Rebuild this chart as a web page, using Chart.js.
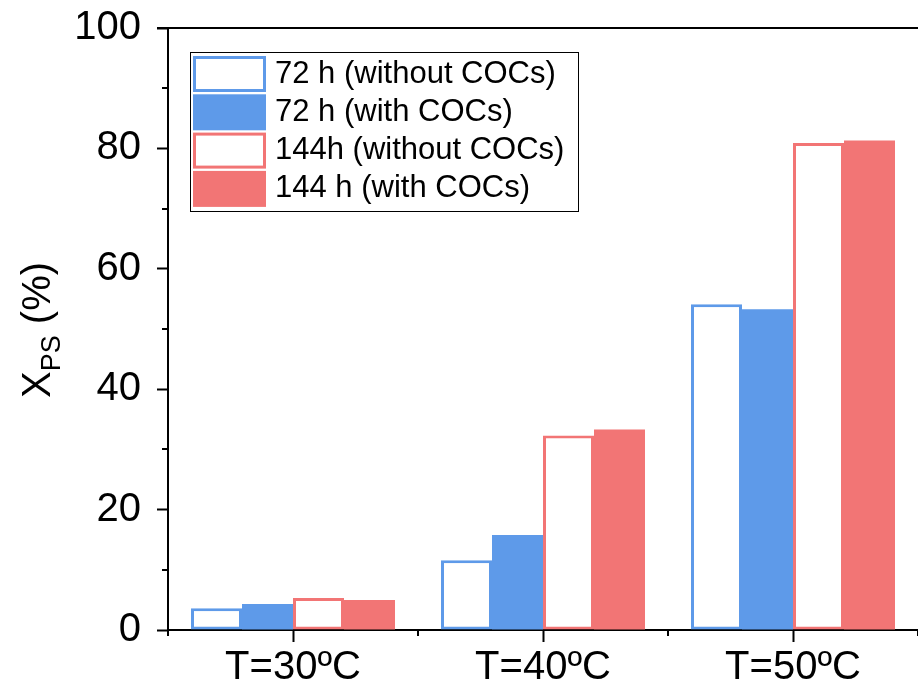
<!DOCTYPE html>
<html>
<head>
<meta charset="utf-8">
<script src="https://cdn.jsdelivr.net/npm/chart.js@4"></script>
<style>
  html, body { margin: 0; padding: 0; background: #fff; }
  canvas { display: block; }
</style>
</head>
<body>
<canvas id="psChart" width="918" height="693"></canvas>
<script>
// data
const temps = ['T=30ºC', 'T=40ºC', 'T=50ºC'];
const h72NoCoc = [3.6, 11.6, 54.1];
const h72Coc = [4.3, 15.8, 53.3];
const h144NoCoc = [5.3, 32.3, 80.9];
const h144Coc = [5.0, 33.3, 81.3];
const yTicks = [0, 20, 40, 60, 80, 100];
const yMinor = [10, 30, 50, 70, 90];

const blue = '#5e9ae9';
const red = '#f27575';
const font = "'Liberation Sans', Arial, sans-serif";

// minor ticks, top frame line, y title with subscript, legend box
const extras = {
  id: 'extras',
  afterDraw(chart) {
    const ctx = chart.ctx;
    const a = chart.chartArea;
    const y = chart.scales.y;
    const x = chart.scales.x;
    ctx.save();
    ctx.strokeStyle = '#000';
    ctx.lineWidth = 2;
    // top frame
    ctx.beginPath();
    ctx.moveTo(a.left - 11, a.top);
    ctx.lineTo(a.right, a.top);
    ctx.stroke();
    // y minor ticks
    yMinor.forEach(v => {
      const py = Math.round(y.getPixelForValue(v));
      ctx.beginPath();
      ctx.moveTo(a.left - 6, py);
      ctx.lineTo(a.left, py);
      ctx.stroke();
    });
    // x minor ticks between categories
    for (let i = 0; i <= temps.length; i++) {
      const px = Math.round(x.getPixelForValue(i - 0.5));
      ctx.beginPath();
      ctx.moveTo(px, a.bottom);
      ctx.lineTo(px, a.bottom + 6);
      ctx.stroke();
    }

    // y title: X_PS (%)
    ctx.translate(50, 398);
    ctx.rotate(-Math.PI / 2);
    ctx.fillStyle = '#000';
    ctx.textBaseline = 'alphabetic';
    ctx.textAlign = 'left';
    ctx.font = '40px ' + font;
    ctx.fillText('X', 0, 0);
    let off = ctx.measureText('X').width;
    ctx.font = '27px ' + font;
    ctx.fillText('PS', off, 10);
    off += ctx.measureText('PS').width;
    ctx.font = '40px ' + font;
    ctx.fillText(' (%)', off, 0);
    ctx.restore();

    // legend
    ctx.save();
    ctx.strokeStyle = '#000';
    ctx.lineWidth = 1;
    ctx.strokeRect(190.5, 52.5, 388, 159);
    ctx.font = '31px ' + font;
    ctx.textBaseline = 'middle';
    ctx.fillStyle = '#000';
    chart.data.datasets.forEach((ds, i) => {
      const top = 56 + i * 38.3;
      if (ds.borderWidth > 0) {
        ctx.fillStyle = ds.borderColor;
        ctx.fillRect(193, top, 73, 36);
        ctx.fillStyle = '#fff';
        ctx.fillRect(196, top + 3, 67, 30);
      } else {
        ctx.fillStyle = ds.backgroundColor;
        ctx.fillRect(193, top, 73, 36);
      }
      ctx.fillStyle = '#000';
      ctx.fillText(ds.label, 275, top + 18);
    });
    ctx.restore();
  }
};

new Chart(document.getElementById('psChart').getContext('2d'), {
  type: 'bar',
  data: {
    labels: temps,
    datasets: [
      { label: '72 h (without COCs)', data: h72NoCoc, backgroundColor: '#fff', borderColor: blue, borderWidth: 3, borderSkipped: false },
      { label: '72 h (with COCs)', data: h72Coc, backgroundColor: blue, borderColor: blue, borderWidth: 0 },
      { label: '144h (without COCs)', data: h144NoCoc, backgroundColor: '#fff', borderColor: red, borderWidth: 3, borderSkipped: false },
      { label: '144 h (with COCs)', data: h144Coc, backgroundColor: red, borderColor: red, borderWidth: 0 }
    ]
  },
  options: {
    responsive: false,
    animation: false,
    layout: { padding: { top: 28, left: 0, right: 0, bottom: 0 } },
    datasets: { bar: { categoryPercentage: 0.816, barPercentage: 1.0 } },
    plugins: {
      legend: { display: false },
      tooltip: { enabled: false }
    },
    scales: {
      x: {
        offset: true,
        grid: { offset: false, drawOnChartArea: false, tickLength: 12, tickWidth: 2, tickColor: '#000' },
        border: { display: true, color: '#000', width: 2 },
        ticks: { color: '#000', font: { family: font, size: 40 }, padding: 2, maxRotation: 0 },
        afterFit(s) { s.height = 63; s.paddingLeft = 0; s.paddingRight = 0; }
      },
      y: {
        min: 0,
        max: 100,
        afterBuildTicks(s) { s.ticks = yTicks.map(v => ({ value: v })); },
        grid: { drawOnChartArea: false, tickLength: 11, tickWidth: 2, tickColor: '#000' },
        border: { display: true, color: '#000', width: 2 },
        ticks: { color: '#000', font: { family: font, size: 40 }, padding: 16 },
        afterFit(s) { s.width = 168; s.paddingTop = 0; s.paddingBottom = 0; }
      }
    }
  },
  plugins: [extras]
});
</script>
</body>
</html>
